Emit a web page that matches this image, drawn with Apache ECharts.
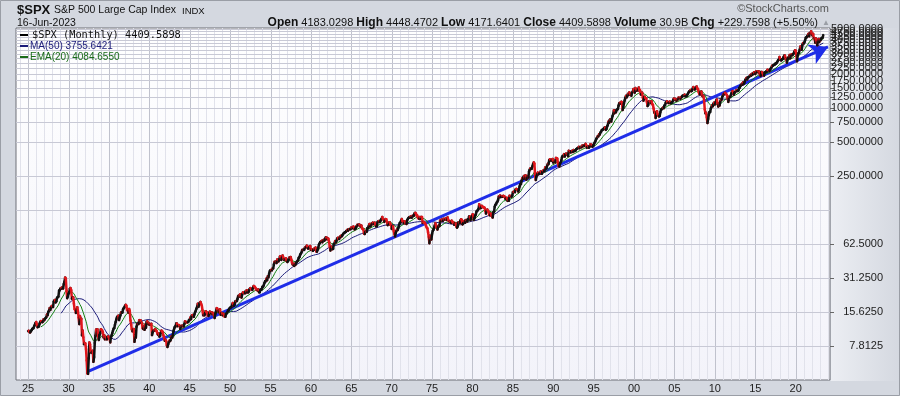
<!DOCTYPE html>
<html><head><meta charset="utf-8">
<script src="https://cdn.jsdelivr.net/npm/echarts@6/dist/echarts.min.js"></script>
<style>html,body{margin:0;padding:0;background:#d4d8e0;}#c{width:900px;height:396px;}</style>
</head><body><div id="c"></div>
<script>
// ---------- DATA ----------
const startYear = 1925; // first month = Jan 1925
// Monthly closes of $SPX, one row per year (Jan..Dec), read/estimated from the chart
const monthlyCloses = [
/*1925*/10.58,10.67,10.39,10.28,10.58,10.76,11.03,11.18,11.23,11.70,12.04,12.46,
/*1926*/12.74,12.11,11.46,11.56,11.64,12.30,12.79,12.98,12.88,12.68,12.87,13.49,
/*1927*/13.21,13.61,13.83,14.05,14.86,14.60,15.66,16.00,16.90,16.31,17.19,17.66,
/*1928*/17.57,17.26,19.28,19.75,20.00,19.01,19.42,20.88,21.17,21.33,24.18,24.35,
/*1929*/25.25,25.49,25.16,25.96,25.21,27.62,29.00,31.56,30.93,24.15,20.72,21.45,
/*1930*/22.79,23.07,25.14,25.46,24.36,20.46,21.02,21.10,18.53,16.54,16.26,15.34,
/*1931*/15.98,17.20,15.92,13.96,12.20,14.38,13.42,13.60,9.71,10.71,9.33,8.12,
/*1932*/8.30,8.23,7.31,5.83,4.47,4.43,6.10,8.39,8.08,6.94,6.80,6.89,
/*1933*/7.09,5.66,6.23,8.32,9.64,10.91,9.72,10.99,9.55,8.83,9.78,10.10,
/*1934*/10.98,10.92,10.74,10.34,9.30,9.74,8.95,9.35,9.09,8.95,9.39,9.50,
/*1935*/9.28,9.02,8.41,9.34,9.70,10.15,10.66,11.15,11.25,12.05,12.73,13.43,
/*1936*/14.04,14.29,14.50,13.25,13.98,14.57,15.48,15.47,15.48,16.50,16.94,17.18,
/*1937*/17.73,18.11,17.77,16.23,16.17,15.44,16.60,15.95,13.14,12.12,10.99,10.55,
/*1938*/10.87,11.04,8.50,9.70,9.27,11.56,12.24,12.30,12.24,13.23,12.81,13.21,
/*1939*/12.50,12.54,11.22,11.06,11.66,10.86,12.09,11.31,12.77,12.90,12.37,12.49,
/*1940*/12.05,12.22,12.15,12.27,9.76,10.31,10.66,10.81,10.73,11.01,10.68,10.58,
/*1941*/10.03,9.84,10.06,9.47,9.59,10.23,10.69,10.59,10.29,9.68,9.17,8.69,
/*1942*/8.88,8.65,7.93,7.66,8.09,8.46,8.73,8.65,8.91,9.53,9.27,9.77,
/*1943*/10.63,11.16,11.58,11.66,12.36,12.37,11.72,11.80,11.99,11.81,11.05,11.67,
/*1944*/11.77,11.71,11.87,11.65,12.22,12.90,12.63,12.74,12.68,12.65,12.82,13.28,
/*1945*/13.29,13.96,13.51,14.46,14.70,14.58,14.15,14.91,15.55,16.04,16.73,17.36,
/*1946*/18.47,17.35,18.18,18.84,19.18,18.43,17.77,16.19,14.61,14.69,14.62,15.30,
/*1947*/15.86,15.61,15.08,14.45,14.43,15.21,15.76,15.29,15.11,15.50,14.98,15.30,
/*1948*/14.69,13.83,15.07,15.72,16.89,16.74,15.92,15.97,15.49,16.54,14.75,15.20,
/*1949*/15.22,14.62,15.06,14.74,14.19,14.16,15.04,15.22,15.58,16.11,16.28,16.76,
/*1950*/17.05,17.22,17.29,18.07,18.78,17.69,17.84,18.42,19.45,19.53,19.51,20.41,
/*1951*/21.66,21.80,21.40,22.43,21.52,20.96,22.40,23.28,23.26,22.94,22.88,23.77,
/*1952*/24.14,23.26,24.37,23.32,23.86,24.96,25.40,25.03,24.54,24.52,25.66,26.57,
/*1953*/26.38,25.90,25.29,24.62,24.54,24.14,24.75,23.32,23.35,24.54,24.76,24.81,
/*1954*/26.08,26.15,26.94,28.26,29.19,29.21,30.88,29.83,32.31,31.68,34.24,35.98,
/*1955*/36.63,36.76,36.58,37.96,37.91,41.03,43.52,43.18,43.67,42.34,45.51,45.48,
/*1956*/43.82,45.34,48.48,48.38,45.20,46.97,49.39,47.51,45.35,45.58,45.08,46.67,
/*1957*/44.72,43.26,44.11,45.74,47.43,47.37,47.91,45.22,42.42,41.06,41.72,39.99,
/*1958*/41.70,40.84,42.10,43.44,44.09,45.24,47.19,47.75,50.06,51.33,52.48,55.21,
/*1959*/55.42,55.41,55.44,57.59,58.68,58.47,60.51,59.60,56.88,57.52,58.28,59.89,
/*1960*/55.61,56.12,55.34,54.37,55.83,56.92,55.51,58.07,53.52,53.39,55.54,58.11,
/*1961*/61.78,63.44,65.06,65.31,66.56,64.64,66.76,68.07,66.73,68.62,71.32,71.55,
/*1962*/68.84,69.96,69.55,65.24,59.63,54.75,58.23,59.12,56.27,56.52,62.26,63.10,
/*1963*/66.20,64.29,66.57,69.80,70.80,69.37,69.13,72.50,71.70,74.01,73.23,75.02,
/*1964*/77.04,77.80,78.98,79.46,80.37,81.69,83.18,81.83,84.18,84.86,84.42,84.75,
/*1965*/87.56,87.43,86.16,89.11,88.42,84.12,85.25,87.17,89.96,92.42,91.61,92.43,
/*1966*/92.88,91.22,89.23,91.06,86.13,84.74,83.60,77.10,76.56,80.20,80.45,80.33,
/*1967*/86.61,86.78,90.20,94.01,89.08,90.64,94.75,93.64,96.71,93.90,94.00,96.47,
/*1968*/92.24,89.36,90.20,97.59,98.68,99.58,97.74,98.86,102.67,103.41,108.37,103.86,
/*1969*/103.01,98.13,101.51,103.69,103.46,97.71,91.83,95.51,93.12,97.24,93.81,92.06,
/*1970*/85.02,89.50,89.63,81.52,76.55,72.72,78.05,81.52,84.21,83.25,87.20,92.15,
/*1971*/95.88,96.75,100.31,103.95,99.63,98.70,95.58,99.03,98.34,94.23,93.99,102.09,
/*1972*/103.94,106.57,107.20,107.67,109.53,107.14,107.39,111.09,110.55,111.58,116.67,118.05,
/*1973*/116.03,111.68,111.52,106.97,104.95,104.26,108.22,104.25,108.43,108.29,95.96,97.55,
/*1974*/96.57,96.22,93.98,90.31,87.28,86.00,79.31,72.15,63.54,73.90,69.97,68.56,
/*1975*/76.98,81.59,83.36,87.30,91.15,95.19,88.75,86.88,83.87,89.04,91.24,90.19,
/*1976*/100.86,99.71,102.77,101.64,100.18,104.28,103.44,102.91,105.24,102.90,102.10,107.46,
/*1977*/102.03,99.82,98.42,98.44,96.12,100.48,98.85,96.77,96.53,92.34,94.83,95.10,
/*1978*/89.25,87.04,89.21,96.83,97.29,95.53,100.68,103.29,102.54,93.15,94.70,96.11,
/*1979*/99.93,96.28,101.59,101.76,99.08,102.91,103.81,109.32,109.32,101.82,106.16,107.94,
/*1980*/114.16,113.66,102.09,106.29,111.24,114.24,121.67,122.38,125.46,127.47,140.52,135.76,
/*1981*/129.55,131.27,136.00,132.81,132.59,131.21,130.92,122.79,116.18,121.89,126.35,122.55,
/*1982*/120.40,113.11,111.96,116.44,111.88,109.61,107.09,119.51,120.42,133.71,138.54,140.64,
/*1983*/145.30,148.06,152.96,164.42,162.39,168.11,162.56,164.40,166.07,163.55,166.40,164.93,
/*1984*/163.41,157.06,159.18,160.05,150.55,153.18,150.66,166.68,166.10,166.09,163.58,167.24,
/*1985*/179.63,181.18,180.66,179.83,189.55,191.85,190.92,188.63,182.08,189.82,202.17,211.28,
/*1986*/211.78,226.92,238.90,235.52,247.35,250.84,236.12,252.93,231.32,243.98,249.22,242.17,
/*1987*/274.08,284.20,291.70,288.36,290.10,304.00,318.66,329.80,321.83,251.79,230.30,247.08,
/*1988*/257.07,267.82,258.89,261.33,262.16,273.50,272.02,261.52,271.91,278.97,273.70,277.72,
/*1989*/297.47,288.86,294.87,309.64,320.52,317.98,346.08,351.45,349.15,340.36,345.99,353.40,
/*1990*/329.08,331.89,339.94,330.80,361.23,358.02,356.15,322.56,306.05,304.00,322.22,330.22,
/*1991*/343.93,367.07,375.22,375.35,389.83,371.16,387.81,395.43,387.86,392.45,375.22,417.09,
/*1992*/408.79,412.70,403.69,414.95,415.35,408.14,424.21,414.03,417.80,418.68,431.35,435.71,
/*1993*/438.78,443.38,451.67,440.19,450.19,450.53,448.13,463.56,458.93,467.83,461.79,466.45,
/*1994*/481.61,467.14,445.77,450.91,456.50,444.27,458.26,475.49,462.69,472.35,453.69,459.27,
/*1995*/470.42,487.39,500.71,514.71,533.40,544.75,562.06,561.88,584.41,581.50,605.37,615.93,
/*1996*/636.02,640.43,645.50,654.17,669.12,670.63,639.95,651.99,687.33,705.27,757.02,740.74,
/*1997*/786.16,790.82,757.12,801.34,848.28,885.14,954.31,899.47,947.28,914.62,955.40,970.43,
/*1998*/980.28,1049.34,1101.75,1111.75,1090.82,1133.84,1120.67,957.28,1017.01,1098.67,1163.63,1229.23,
/*1999*/1279.64,1238.33,1286.37,1335.18,1301.84,1372.71,1328.72,1320.41,1282.71,1362.93,1388.91,1469.25,
/*2000*/1394.46,1366.42,1498.58,1452.43,1420.60,1454.60,1430.83,1517.68,1436.51,1429.40,1314.95,1320.28,
/*2001*/1366.01,1239.94,1160.33,1249.46,1255.82,1224.42,1211.23,1133.58,1040.94,1059.78,1139.45,1148.08,
/*2002*/1130.20,1106.73,1147.39,1076.92,1067.14,989.82,911.62,916.07,815.28,885.76,936.31,879.82,
/*2003*/855.70,841.15,848.18,916.92,963.59,974.50,990.31,1008.01,995.97,1050.71,1058.20,1111.92,
/*2004*/1131.13,1144.94,1126.21,1107.30,1120.68,1140.84,1101.72,1104.24,1114.58,1130.20,1173.82,1211.92,
/*2005*/1181.27,1203.60,1180.59,1156.85,1191.50,1191.33,1234.18,1220.33,1228.81,1207.01,1249.48,1248.29,
/*2006*/1280.08,1280.66,1294.83,1310.61,1270.09,1270.20,1276.66,1303.82,1335.85,1377.94,1400.63,1418.30,
/*2007*/1438.24,1406.82,1420.86,1482.37,1530.62,1503.35,1455.27,1473.99,1526.75,1549.38,1481.14,1468.36,
/*2008*/1378.55,1330.63,1322.70,1385.59,1400.38,1280.00,1267.38,1282.83,1166.36,968.75,896.24,903.25,
/*2009*/825.88,735.09,797.87,872.81,919.14,919.32,987.48,1020.62,1057.08,1036.19,1095.63,1115.10,
/*2010*/1073.87,1104.49,1169.43,1186.69,1089.41,1030.71,1101.60,1049.33,1141.20,1183.26,1180.55,1257.64,
/*2011*/1286.12,1327.22,1325.83,1363.61,1345.20,1320.64,1292.28,1218.89,1131.42,1253.30,1246.96,1257.60,
/*2012*/1312.41,1365.68,1408.47,1397.91,1310.33,1362.16,1379.32,1406.58,1440.67,1412.16,1416.18,1426.19,
/*2013*/1498.11,1514.68,1569.19,1597.57,1630.74,1606.28,1685.73,1632.97,1681.55,1756.54,1805.81,1848.36,
/*2014*/1782.59,1859.45,1872.34,1883.95,1923.57,1960.23,1930.67,2003.37,1972.29,2018.05,2067.56,2058.90,
/*2015*/1994.99,2104.50,2067.89,2085.51,2107.39,2063.11,2103.84,1972.18,1920.03,2079.36,2080.41,2043.94,
/*2016*/1940.24,1932.23,2059.74,2065.30,2096.95,2098.86,2173.60,2170.95,2168.27,2126.15,2198.81,2238.83,
/*2017*/2278.87,2363.64,2362.72,2384.20,2411.80,2423.41,2470.30,2471.65,2519.36,2575.26,2647.58,2673.61,
/*2018*/2823.81,2713.83,2640.87,2648.05,2705.27,2718.37,2816.29,2901.52,2913.98,2711.74,2760.17,2506.85,
/*2019*/2704.10,2784.49,2834.40,2945.83,2752.06,2941.76,2980.38,2926.46,2976.74,3037.56,3140.98,3230.78,
/*2020*/3225.52,2954.22,2584.59,2912.43,3044.31,3100.29,3271.12,3500.31,3363.00,3269.96,3621.63,3756.07,
/*2021*/3714.24,3811.15,3972.89,4181.17,4204.11,4297.50,4395.26,4522.68,4307.54,4605.38,4567.00,4766.18,
/*2022*/4515.55,4373.94,4530.41,4131.93,4132.15,3785.38,4130.29,3955.00,3585.62,3871.98,4080.11,3839.50,
/*2023*/4076.60,3970.15,4109.31,4169.48,4179.83,4409.59
];
const xLabelYears = [1925,1930,1935,1940,1945,1950,1955,1960,1965,1970,1975,1980,1985,1990,1995,2000,2005,2010,2015,2020];
const yLabelValues = [7.8125,15.625,31.25,62.5,250,500,750,1000,1250,1500,1750,2000,2250,2500,2750,3000,3250,3500,3750,4000,4250,4500,4750,5000];
const hGridValues = [7.8125,15.625,31.25,62.5,125,250,500,750,1000,1250,1500,1750,2000,2250,2500,2750,3000,3250,3500,3750,4000,4250,4500,4750,5000];
const trendStart = [1932.3, 4.6];
const trendEnd = [2024.0, 3467];
const headerTitle = 'S&P 500 Large Cap Index';
const legendSpx = '$SPX (Monthly) 4409.5898';
const legendMa = 'MA(50) 3755.6421';
const legendEma = 'EMA(20) 4084.6550';

// ---------- DERIVED ----------
const X_MIN = 1923.5, X_MAX = 2024.25, Y_MIN = 3.90625, Y_MAX = 5100;
const times = monthlyCloses.map((_, i) => startYear + i / 12);
const priceData = monthlyCloses.map((c, i) => [times[i], c, i ? monthlyCloses[i - 1] : c]);
const ma50 = [], ema20 = [];
let sum = 0;
for (let i = 0; i < monthlyCloses.length; i++) {
  sum += monthlyCloses[i];
  if (i >= 50) sum -= monthlyCloses[i - 50];
  if (i >= 49) ma50.push([times[i], sum / 50]);
}
const kEma = 2 / 21; let e = null;
for (let i = 0; i < monthlyCloses.length; i++) {
  if (i === 19) { let s = 0; for (let j = 0; j < 20; j++) s += monthlyCloses[j]; e = s / 20; }
  else if (i > 19) e = e + kEma * (monthlyCloses[i] - e);
  if (i >= 19) ema20.push([times[i], e]);
}
const gridData = [];
for (let y = 1924; y <= 2024; y++) gridData.push([y, 10, 0, y % 5 === 0 ? 1 : 0]);
hGridValues.forEach(v => gridData.push([1950, v, 1, 0]));

const FONT = 'Arial, "Liberation Sans", sans-serif';
const chart = echarts.init(document.getElementById('c'), null, {renderer: 'canvas'});
chart.setOption({
  animation: false,
  backgroundColor: '#d4d8e0',
  grid: {left: 16, top: 28, right: 70, bottom: 16, show: true, borderColor: '#6e7178', borderWidth: 1,
    backgroundColor: {type: 'linear', x: 0, y: 0, x2: 0, y2: 1, colorStops: [{offset: 0, color: '#ffffff'}, {offset: 1, color: '#f3f3fa'}]}},
  xAxis: {type: 'value', min: X_MIN, max: X_MAX, axisLine: {show: false}, axisTick: {show: false}, axisLabel: {show: false}, splitLine: {show: false}},
  yAxis: {type: 'log', logBase: 2, min: Y_MIN, max: Y_MAX, position: 'right', axisLine: {show: false}, axisTick: {show: false}, axisLabel: {show: false}, splitLine: {show: false}},
  graphic: [
    {type: 'rect', z: -1, shape: {x: 831, y: 28, width: 69, height: 353}, style: {fill: {type: 'linear', x: 0, y: 0, x2: 1, y2: 0, colorStops: [{offset: 0, color: '#eceef3'}, {offset: 1, color: '#d4d8e0'}]}}},
    {type: 'rect', shape: {x: 0.5, y: 0.5, width: 899, height: 395}, style: {fill: 'none', stroke: '#9a9ea6', lineWidth: 1}},
    {type: 'text', x: 17, y: 4, style: {text: '$SPX', font: 'bold 13px ' + FONT, fill: '#111'}},
    {type: 'text', x: 54, y: 5, style: {text: headerTitle, font: '10.5px ' + FONT, fill: '#111'}},
    {type: 'text', x: 182, y: 6, style: {text: 'INDX', font: '9.5px ' + FONT, fill: '#111'}},
    {type: 'text', x: 17, y: 18, style: {text: '16-Jun-2023', font: '10.5px ' + FONT, fill: '#111'}},
    {type: 'text', x: 829, y: 3, style: {text: '\u00A9StockCharts.com', font: '11px ' + FONT, fill: '#555', align: 'right'}},
    {type: 'text', x: 818, y: 17, style: {
      text: '{b|Open} 4183.0298 {b|High} 4448.4702 {b|Low} 4171.6401 {b|Close} 4409.5898 {b|Volume} 30.9B {b|Chg} +229.7598 (+5.50%)',
      font: '11px ' + FONT, fill: '#111', align: 'right',
      rich: {b: {font: 'bold 12px ' + FONT, fill: '#111'}}}},
    {type: 'text', x: 822, y: 19, style: {text: '\u25B2', font: '8px ' + FONT, fill: '#9a9ea6'}},
    {type: 'rect', z: 100, shape: {x: 20, y: 34, width: 8, height: 2}, style: {fill: '#000'}},
    {type: 'text', z: 100, x: 32, y: 30, style: {text: legendSpx, font: '10.3px "DejaVu Sans Mono", monospace', fill: '#111'}},
    {type: 'rect', z: 100, shape: {x: 20, y: 45, width: 8, height: 2}, style: {fill: '#1c1c7a'}},
    {type: 'text', z: 100, x: 30, y: 41, style: {text: legendMa, font: '10px ' + FONT, fill: '#1c1c7a'}},
    {type: 'rect', z: 100, shape: {x: 20, y: 56, width: 8, height: 2}, style: {fill: '#1a6b1a'}},
    {type: 'text', z: 100, x: 30, y: 52, style: {text: legendEma, font: '10px ' + FONT, fill: '#1a6b1a'}}
  ],
  series: [
    {type: 'custom', name: 'grid', z: 1, silent: true, data: gridData, encode: {x: 0, y: 1}, progressive: 0,
      renderItem: function (params, api) {
        if (api.value(2) === 0) {
          const x = api.value(0);
          const a = api.coord([x, Y_MAX]), b = api.coord([x, Y_MIN]);
          const px = Math.round(a[0]) + 0.5;
          return {type: 'line', shape: {x1: px, y1: a[1], x2: px, y2: b[1]}, style: {stroke: api.value(3) ? '#c0c2cd' : '#e1e2eb', lineWidth: 1}};
        }
        const v = api.value(1);
        const a = api.coord([X_MIN, v]), b = api.coord([X_MAX, v]);
        const py = Math.round(a[1]) + 0.5;
        return {type: 'line', shape: {x1: a[0], y1: py, x2: b[0], y2: py}, style: {stroke: '#c8c9d5', lineWidth: 1}};
      }},
    {type: 'custom', name: 'xlabels', z: 3, silent: true, clip: false, data: xLabelYears.map(y => [y, Y_MIN]), encode: {x: 0, y: 1},
      renderItem: function (params, api) {
        const p = api.coord([api.value(0), api.value(1)]);
        const y = api.value(0);
        return {type: 'text', x: p[0], y: p[1] + 9, style: {text: String(y % 100).padStart(2, '0'), font: '11px ' + FONT, fill: '#222', align: 'center', verticalAlign: 'middle'}};
      }},
    {type: 'custom', name: 'ylabels', z: 3, silent: true, clip: false, data: yLabelValues.map(v => [X_MAX, v]), encode: {x: 0, y: 1},
      renderItem: function (params, api) {
        const v = api.value(1);
        const p = api.coord([api.value(0), v]);
        return {type: 'group', children: [
          {type: 'line', shape: {x1: p[0], y1: Math.round(p[1]) + 0.5, x2: p[0] + 4, y2: Math.round(p[1]) + 0.5}, style: {stroke: '#666', lineWidth: 1}},
          {type: 'text', x: p[0] + 53, y: p[1], style: {text: v.toFixed(4), font: '11px ' + FONT, fill: '#222', align: 'right', verticalAlign: 'middle'}}
        ]};
      }},
    {type: 'line', name: 'MA(50)', z: 4, data: ma50, showSymbol: false, lineStyle: {color: '#1c1c7a', width: 1}, silent: true},
    {type: 'line', name: 'EMA(20)', z: 5, data: ema20, showSymbol: false, lineStyle: {color: '#118011', width: 1}, silent: true},
    {type: 'custom', name: '$SPX', z: 6, silent: true, data: priceData, encode: {x: 0, y: 1}, progressive: 0,
      renderItem: function (params, api) {
        const t = api.value(0), c = api.value(1), pc = api.value(2);
        if (params.dataIndex === 0) return null;
        const p0 = api.coord([t - 1 / 12, pc]), p1 = api.coord([t, c]);
        return {type: 'line', shape: {x1: p0[0], y1: p0[1], x2: p1[0], y2: p1[1]}, style: {stroke: c < pc ? '#e0161c' : '#111111', lineWidth: 2.5, lineCap: 'round'}};
      }},
    {type: 'line', name: 'trend', z: 8, data: [trendStart, trendEnd], showSymbol: false, lineStyle: {opacity: 0}, silent: true,
      markLine: {silent: true, symbol: ['none', 'arrow'], symbolSize: [16, 18], label: {show: false}, animation: false,
        lineStyle: {color: '#1f2de8', width: 3, type: 'solid'},
        data: [[{coord: trendStart}, {coord: trendEnd}]]}}
  ]
});
</script></body></html>
